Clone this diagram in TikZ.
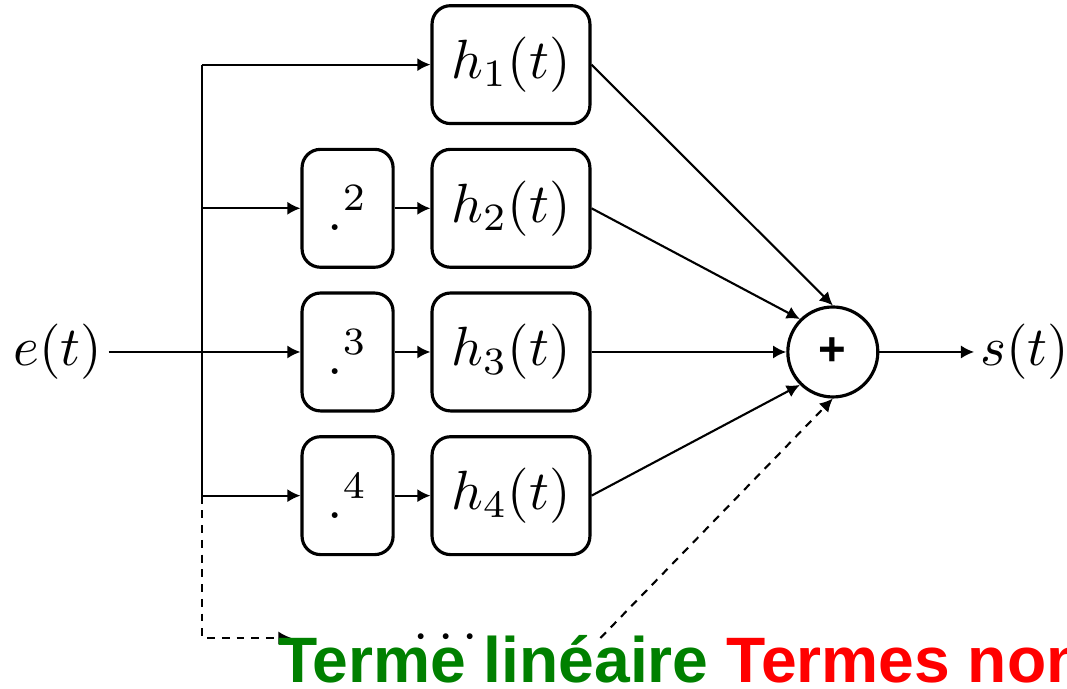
\RequirePackage{fix-cm}
\documentclass[tikz,border=0pt]{standalone}
\usepackage{fontspec}
\usepackage{xcolor}
\usepackage{tikz}
\usetikzlibrary{shapes.geometric, arrows.meta, positioning}
\newfontfamily\capfont{Liberation Sans}
\definecolor{lingreen}{RGB}{0,128,0}
\definecolor{nlred}{RGB}{255,0,0}

\begin{document}
\begin{tikzpicture}[x=0.19pt, y=-0.19pt, node distance=4.3pt, font=\fontsize{10.5pt}{12.6pt}\selectfont]
    \tikzstyle{filt} = [rectangle, draw, line width=0.6pt, rounded corners=3.5pt, minimum width=30pt, minimum height=22.4pt, inner sep=0pt]
    \tikzstyle{pow} = [filt, minimum width=17.3pt]
    \tikzstyle{adder} = [circle, draw, line width=0.6pt, minimum size=17.1pt, inner sep=0pt]
    \tikzstyle{sig} = [inner sep=1pt]
    \tikzstyle{line} = [draw, -{Latex[length=2.5pt, width=2.5pt]}, line width=0.4pt]
    \tikzstyle{dline} = [line, dash pattern=on 1.5pt off 1.3pt]

    \useasboundingbox (0,0) rectangle (1067,689);
    \clip (0,0) rectangle (1067,689);

    \node [filt] (h3) at (511,352) {$h_3(t)$};
    \node [filt, above=of h3] (h2) {$h_2(t)$};
    \node [filt, above=of h2] (h1) {$h_1(t)$};
    \node [filt, below=of h3] (h4) {$h_4(t)$};
    \node [pow, left=6.8pt of h2] (p2) {$.^2$};
    \node [pow, left=6.8pt of h3] (p3) {$.^3$};
    \node [pow, left=6.8pt of h4] (p4) {$.^4$};
    \node [adder, right=37pt of h3] (sum) {\capfont\bfseries\fontsize{9pt}{9pt}\selectfont +};
    \node [sig, right=18pt of sum] (out) {$s(t)$};
    \node [sig] (in) at (58,352) {$e(t)$};
    \coordinate (br) at (202,352);
    \node [inner sep=0pt, minimum width=58.3pt] (dots) at (446,638) {$\cdots$};

    \path [line] (in) -- (p3);
    \draw [line width=0.4pt] (h1 -| br) -- (p4 -| br);
    \path [line] (h1 -| br) -- (h1);
    \path [line] (p2 -| br) -- (p2);
    \path [line] (p4 -| br) -- (p4);
    \path [dline] (p4 -| br) |- (dots);
    \path [line] (p2) -- (h2);
    \path [line] (p3) -- (h3);
    \path [line] (p4) -- (h4);
    \path [line] (h1.east) -- (sum.north);
    \path [line] (h2.east) -- (sum.north west);
    \path [line] (h3) -- (sum);
    \path [line] (h4.east) -- (sum.south west);
    \path [dline] (dots.east) -- (sum.south);
    \path [line] (sum) -- (out);

    \node [anchor=base west, inner sep=0pt, font=\capfont\bfseries\fontsize{12.2pt}{14pt}\selectfont] (caption) at (277,683) {\textcolor{lingreen}{Terme linéaire} \textcolor{nlred}{Termes non-linéaires}};
\end{tikzpicture}
\end{document}
